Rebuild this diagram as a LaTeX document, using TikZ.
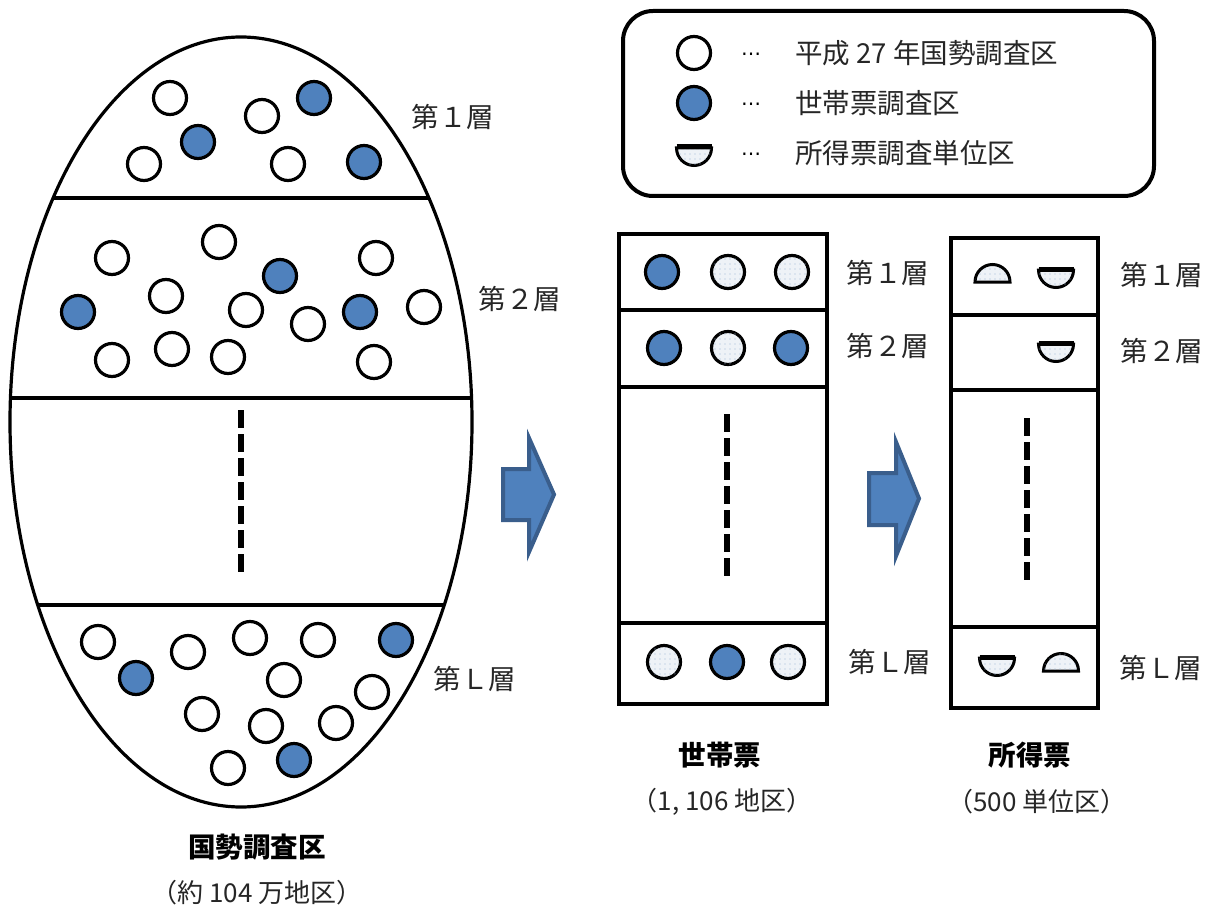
\documentclass[tikz,border=0pt]{standalone}
\usepackage{fontspec}
\usetikzlibrary{patterns.meta}
\newfontfamily\jp{Noto Sans CJK JP}
\newfontfamily\dv{DejaVu Sans}
\definecolor{myblue}{HTML}{4F81BD}
\definecolor{arrowline}{HTML}{3A5E8C}
\definecolor{dotbg}{HTML}{EEF2F7}
\definecolor{dotfg}{HTML}{9FB6D6}
\tikzset{
  wc/.style={circle, draw=black, line width=3.2pt, fill=white, minimum size=33pt, inner sep=0pt},
  bc/.style={wc, fill=myblue},
  dc/.style={wc, fill=dotbg, postaction={pattern={Dots[distance=5pt,radius=0.7pt]}, pattern color=dotfg}},
  semist/.style={draw=black, line width=3pt, fill=dotbg, postaction={pattern={Dots[distance=5pt,radius=0.7pt]}, pattern color=dotfg}},
  lbl/.style={font=\jp\fontsize{27.5}{31}\selectfont, inner sep=0pt, text=black!85},
  sub/.style={font=\jp\fontsize{26}{30}\selectfont, inner sep=0pt, text=black!85},
  ttl/.style={font=\jp\bfseries\fontsize{27.5}{31}\selectfont, inner sep=0pt},
  dots/.style={font=\dv\fontsize{20}{24}\selectfont, inner sep=0pt},
  strat/.style={line width=4pt},
  boxline/.style={line width=3.6pt},
  vdash/.style={line width=6pt, dash pattern=on 18pt off 6pt},
  arrowst/.style={fill=myblue, draw=arrowline, line width=4pt, line join=miter},
}
\begin{document}
\begin{tikzpicture}[x=1pt,y=1pt]
\useasboundingbox (0,0) rectangle (1206,-909);
\fill[white] (0,0) rectangle (1206,-909);

% ---------- ellipse (census districts) ----------
\begin{scope}
  \clip (241,-422) ellipse [x radius=231, y radius=385];
  \draw[strat] (0,-198) -- (500,-198);
  \draw[strat] (0,-398) -- (500,-398);
  \draw[strat] (0,-605) -- (500,-605);
\end{scope}
\draw[line width=3.2pt] (241,-422) ellipse [x radius=231, y radius=385];
\coordinate (ed1) at (241,-410);
\coordinate (ed2) at (241,-572);
\draw[vdash] (ed1) -- (ed2);

% stratum 1
\node[wc] (a1) at (170,-98) {};
\node[bc] (a2) at (314,-98) {};
\node[wc] (a3) at (262,-116) {};
\node[bc] (a4) at (198,-142) {};
\node[wc] (a5) at (144,-164) {};
\node[wc] (a6) at (288,-164) {};
\node[bc] (a7) at (364,-162) {};
% stratum 2
\node[wc] (b1) at (219,-242) {};
\node[wc] (b2) at (112,-258) {};
\node[wc] (b3) at (376,-258) {};
\node[bc] (b4) at (280,-276) {};
\node[wc] (b5) at (166,-296) {};
\node[bc] (b6) at (78,-312) {};
\node[wc] (b7) at (246,-310) {};
\node[bc] (b8) at (360,-312) {};
\node[wc] (b9) at (424,-307) {};
\node[wc] (b10) at (308,-324) {};
\node[wc] (b11) at (112,-360) {};
\node[wc] (b12) at (172,-349) {};
\node[wc] (b13) at (228,-357) {};
\node[wc] (b14) at (374,-362) {};
% stratum L
\node[wc] (c1) at (98,-642) {};
\node[wc] (c2) at (250,-638) {};
\node[wc] (c3) at (318,-640) {};
\node[bc] (c4) at (396,-640) {};
\node[wc] (c5) at (188,-652) {};
\node[bc] (c6) at (136,-678) {};
\node[wc] (c7) at (284,-680) {};
\node[wc] (c8) at (372,-692) {};
\node[wc] (c9) at (202,-714) {};
\node[wc] (c10) at (266,-726) {};
\node[wc] (c11) at (336,-723) {};
\node[wc] (c12) at (228,-768) {};
\node[bc] (c13) at (294,-760) {};

\node[lbl] (el1) at (453,-117) {第１層};
\node[lbl] (el2) at (520,-299) {第２層};
\node[lbl] (elL) at (475,-679) {第Ｌ層};
\node[ttl] (et) at (257,-847) {国勢調査区};
\node[sub] (es) at (257,-893) {（約 104 万地区）};

% ---------- arrows ----------
\filldraw[arrowst] (503,-469) -- (529,-469) -- (529,-438) -- (554,-494.5) -- (529,-552) -- (529,-520) -- (503,-520) -- cycle;
\filldraw[arrowst] (869,-473) -- (896,-473) -- (896,-442) -- (919,-498.5) -- (896,-556) -- (896,-525) -- (869,-525) -- cycle;

% ---------- household schedule box ----------
\draw[boxline] (619,-234) rectangle (827,-704);
\draw[boxline] (619,-310) -- (827,-310);
\draw[boxline] (619,-387) -- (827,-387);
\draw[boxline] (619,-623) -- (827,-623);
\coordinate (md1) at (727,-414);
\coordinate (md2) at (727,-576);
\draw[vdash] (md1) -- (md2);
\node[bc] (m11) at (662,-272) {};
\node[dc] (m12) at (728,-272) {};
\node[dc] (m13) at (792,-272) {};
\node[bc] (m21) at (664,-348) {};
\node[dc] (m22) at (728,-348) {};
\node[bc] (m23) at (791,-348) {};
\node[dc] (m31) at (664,-662) {};
\node[bc] (m32) at (727,-662) {};
\node[dc] (m33) at (788,-662) {};
\node[lbl] (ml1) at (888,-273) {第１層};
\node[lbl] (ml2) at (888,-346) {第２層};
\node[lbl] (mlL) at (890,-662) {第Ｌ層};
\node[ttl] (mt) at (720,-755) {世帯票};
\node[sub] (ms) at (722,-802) {（1, 106 地区）};

% ---------- income schedule box ----------
\draw[boxline] (951,-238) rectangle (1098,-708);
\draw[boxline] (951,-315) -- (1098,-315);
\draw[boxline] (951,-390) -- (1098,-390);
\draw[boxline] (951,-627) -- (1098,-627);
\coordinate (rd1) at (1027,-418);
\coordinate (rd2) at (1027,-580);
\draw[vdash] (rd1) -- (rd2);
% domes (flat side down)
\filldraw[semist] (1010,-282) arc[start angle=0, end angle=180, radius=17.5] -- cycle;
\filldraw[semist] (1078.5,-671) arc[start angle=0, end angle=180, radius=17.5] -- cycle;
% bowls (flat side up)
\filldraw[semist] (1038.5,-270) arc[start angle=180, end angle=360, radius=17.5] -- cycle;
\draw[line width=5pt] (1038.5,-269) -- (1073.5,-269);
\filldraw[semist] (1038.5,-344) arc[start angle=180, end angle=360, radius=17.5] -- cycle;
\draw[line width=5pt] (1038.5,-343) -- (1073.5,-343);
\filldraw[semist] (979.5,-658) arc[start angle=180, end angle=360, radius=17.5] -- cycle;
\draw[line width=5pt] (979.5,-657) -- (1014.5,-657);
\node[lbl] (rl1) at (1162,-275) {第１層};
\node[lbl] (rl2) at (1162,-351) {第２層};
\node[lbl] (rlL) at (1161,-668) {第Ｌ層};
\node[ttl] (rt) at (1030,-755) {所得票};
\node[sub] (rs) at (1037,-802) {（500 単位区）};

% ---------- legend ----------
\draw[line width=4pt, rounded corners=30pt] (623,-11) rectangle (1154,-196);
\node[wc] (g1) at (694,-53) {};
\node[bc] (g2) at (694,-103) {};
\filldraw[semist] (676.5,-148) arc[start angle=180, end angle=360, radius=17.5] -- cycle;
\draw[line width=5pt] (676.5,-147) -- (711.5,-147);
\node[dots] (gd1) at (751,-57) {⋯};
\node[dots] (gd2) at (751,-107) {⋯};
\node[dots] (gd3) at (751,-157) {⋯};
\node[lbl, anchor=west] (gt1) at (795,-53) {平成 27 年国勢調査区};
\node[lbl, anchor=west] (gt2) at (795,-103) {世帯票調査区};
\node[lbl, anchor=west] (gt3) at (795,-153) {所得票調査単位区};
\end{tikzpicture}
\end{document}
